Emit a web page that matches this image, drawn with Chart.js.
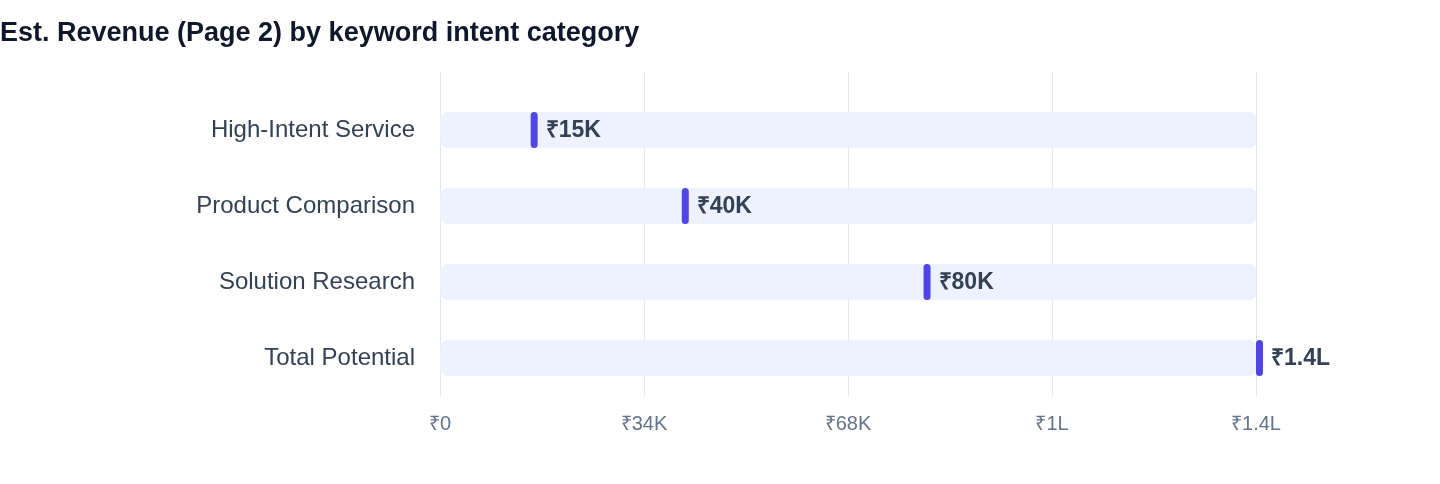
<!DOCTYPE html>
<html>
<head>
<meta charset="utf-8">
<script src="https://cdn.jsdelivr.net/npm/chart.js@4.4.1/dist/chart.umd.min.js"></script>
<style>
  html, body { margin: 0; padding: 0; background: #ffffff; }
  #wrap { width: 1440px; height: 484px; }
</style>
</head>
<body>
<div id="wrap"><canvas id="revChart" width="1440" height="484"></canvas></div>
<script>
// --- 資料 ---
const categories = ['High-Intent Service', 'Product Comparison', 'Solution Research', 'Total Potential'];
const revenueValues = [15000, 40000, 80000, 135000];
const axisMax = 135000;          // 軸最大值 = Total Potential
const axisStep = 33750;          // 4 等分
const trackValues = categories.map(() => axisMax);

const FONT = 'Helvetica, Arial, "Liberation Sans", sans-serif';

// ₹ 格式：十萬以上用 L，其餘用 K
function formatINR(v) {
    if (v === 0) return '₹0';
    if (v >= 100000) {
        let s = (v / 100000).toFixed(1);
        if (s.endsWith('.0')) s = s.slice(0, -2);
        return '₹' + s + 'L';
    }
    return '₹' + Math.round(v / 1000) + 'K';
}

// 標記 + 數值標籤
const markerPlugin = {
    id: 'markerPlugin',
    beforeDatasetsDraw(chart) {
        // 格線往上延伸一點
        const { ctx, chartArea, scales } = chart;
        ctx.save();
        ctx.strokeStyle = '#e2e8f0';
        ctx.lineWidth = 1;
        scales.x.ticks.forEach((t) => {
            const x = Math.round(scales.x.getPixelForValue(t.value)) + 0.5;
            ctx.beginPath();
            ctx.moveTo(x, chartArea.top - 20);
            ctx.lineTo(x, chartArea.top);
            ctx.stroke();
        });
        ctx.restore();
    },
    afterDatasetsDraw(chart) {
        const { ctx, scales } = chart;
        ctx.save();
        revenueValues.forEach((v, i) => {
            const x = scales.x.getPixelForValue(v);
            const y = scales.y.getPixelForValue(i);
            ctx.fillStyle = '#4f46e5';
            ctx.beginPath();
            ctx.roundRect(x, y - 18, 7, 36, 3.5);
            ctx.fill();

            ctx.fillStyle = '#334155';
            ctx.font = 'bold 23px ' + FONT;
            ctx.textAlign = 'left';
            ctx.textBaseline = 'middle';
            ctx.fillText(formatINR(v), x + 15, y + 1);
        });
        ctx.restore();
    }
};

new Chart(document.getElementById('revChart').getContext('2d'), {
    type: 'bar',
    data: {
        labels: categories,
        datasets: [{
            label: 'track',
            data: trackValues,
            backgroundColor: '#eef2ff',
            borderRadius: 8,
            borderSkipped: false,
            barThickness: 36
        }]
    },
    options: {
        indexAxis: 'y',
        responsive: false,
        animation: false,
        layout: { padding: { left: 0, right: 184, top: 0, bottom: 32 } },
        plugins: {
            legend: { display: false },
            tooltip: { enabled: false },
            title: {
                display: true,
                text: 'Est. Revenue (Page 2) by keyword intent category',
                align: 'start',
                color: '#0f172a',
                font: { family: FONT, size: 27, weight: 'bold', lineHeight: 1.2 },
                padding: { top: 17, bottom: 42.6 }
            }
        },
        scales: {
            x: {
                min: 0,
                max: axisMax,
                border: { display: false },
                grid: { color: '#e2e8f0', drawTicks: false, lineWidth: 1 },
                ticks: {
                    stepSize: axisStep,
                    padding: 16,
                    color: '#64748b',
                    font: { family: FONT, size: 20 },
                    callback: (v) => formatINR(v)
                }
            },
            y: {
                border: { display: false },
                grid: { display: false, drawTicks: false },
                afterFit: (scale) => { scale.width = 440; },
                ticks: {
                    padding: 25,
                    color: '#334155',
                    font: { family: FONT, size: 24 }
                }
            }
        }
    },
    plugins: [markerPlugin]
});
</script>
</body>
</html>
